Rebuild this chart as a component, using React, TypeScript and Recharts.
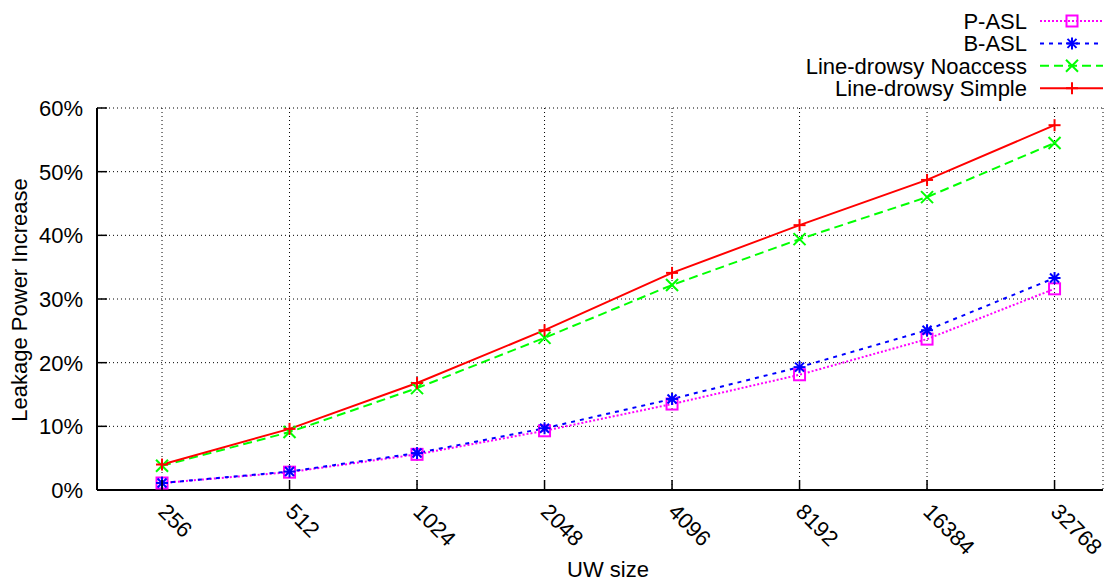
import React from 'react';
import { LineChart, Line, XAxis, YAxis, CartesianGrid } from 'recharts';

// UW sizes along the x axis (plotted by index, labelled with the size)
const uwSizes = ['256', '512', '1024', '2048', '4096', '8192', '16384', '32768'];
const sizeIndex = [0, 1, 2, 3, 4, 5, 6, 7];

// leakage power increase, in percent
const pAsl = [1.1, 2.8, 5.6, 9.3, 13.5, 18.1, 23.7, 31.6];
const bAsl = [1.1, 2.9, 5.8, 9.7, 14.3, 19.3, 25.1, 33.3];
const drowsyNoaccess = [3.8, 9.1, 16.0, 23.9, 32.2, 39.4, 46.0, 54.5];
const drowsySimple = [4.0, 9.6, 16.8, 25.1, 34.1, 41.6, 48.7, 57.3];

const yTicks = [0, 10, 20, 30, 40, 50, 60];

const W = 1107;
const H = 581;
const FONT = '"Liberation Sans", Arial, Helvetica, sans-serif';
const FS = 22;

type MarkerKind = 'square' | 'star' | 'cross' | 'plus';

const series: { key: string; name: string; color: string; dash?: string; marker: MarkerKind }[] = [
  { key: 'pAsl', name: 'P-ASL', color: '#ff00ff', dash: '2 2', marker: 'square' },
  { key: 'bAsl', name: 'B-ASL', color: '#0000ff', dash: '4 5', marker: 'star' },
  { key: 'noaccess', name: 'Line-drowsy Noaccess', color: '#00ff00', dash: '9 5', marker: 'cross' },
  { key: 'simple', name: 'Line-drowsy Simple', color: '#ff0000', marker: 'plus' },
];

const rows = sizeIndex.map((i) => ({
  idx: i,
  pAsl: pAsl[i],
  bAsl: bAsl[i],
  noaccess: drowsyNoaccess[i],
  simple: drowsySimple[i],
}));

const Marker = ({ kind, cx, cy, color }: { kind: MarkerKind; cx: number; cy: number; color: string }) => {
  const s = 6;
  if (kind === 'square') {
    return <rect x={cx - 5.5} y={cy - 5.5} width={11} height={11} fill="none" stroke={color} strokeWidth={2} />;
  }
  if (kind === 'plus') {
    return (
      <g stroke={color} strokeWidth={2}>
        <line x1={cx - s} y1={cy} x2={cx + s} y2={cy} />
        <line x1={cx} y1={cy - s} x2={cx} y2={cy + s} />
      </g>
    );
  }
  if (kind === 'cross') {
    return (
      <g stroke={color} strokeWidth={2}>
        <line x1={cx - s} y1={cy - s} x2={cx + s} y2={cy + s} />
        <line x1={cx - s} y1={cy + s} x2={cx + s} y2={cy - s} />
      </g>
    );
  }
  return (
    <g stroke={color} strokeWidth={2}>
      <line x1={cx - s} y1={cy} x2={cx + s} y2={cy} />
      <line x1={cx} y1={cy - s} x2={cx} y2={cy + s} />
      <line x1={cx - 4.5} y1={cy - 4.5} x2={cx + 4.5} y2={cy + 4.5} />
      <line x1={cx - 4.5} y1={cy + 4.5} x2={cx + 4.5} y2={cy - 4.5} />
    </g>
  );
};

const BottomTick = (props: any) => {
  const { x, y, payload } = props;
  const tx = x - 5;
  const ty = y + 23;
  return (
    <g>
      <line x1={x} y1={y} x2={x} y2={y - 10} stroke="#000" strokeWidth={1.5} />
      <text x={tx} y={ty} transform={`rotate(45, ${tx}, ${ty})`} fontSize={FS} fontFamily={FONT} fill="#000">
        {uwSizes[payload.value]}
      </text>
    </g>
  );
};

const TopTick = (props: any) => {
  const { x, y } = props;
  return <line x1={x} y1={y} x2={x} y2={y + 10} stroke="#000" strokeWidth={1.5} />;
};

const LeftTick = (props: any) => {
  const { x, y, payload } = props;
  return (
    <g>
      <line x1={x} y1={y} x2={x + 10} y2={y} stroke="#000" strokeWidth={1.5} />
      <text x={x - 14} y={y} dy="0.36em" textAnchor="end" fontSize={FS} fontFamily={FONT} fill="#000">
        {`${payload.value}%`}
      </text>
    </g>
  );
};

const RightTick = (props: any) => {
  const { x, y } = props;
  return <line x1={x} y1={y} x2={x - 10} y2={y} stroke="#000" strokeWidth={1.5} />;
};

const LegendBox = () => (
  <svg width={W} height={110} style={{ position: 'absolute', left: 0, top: 0, pointerEvents: 'none' }}>
    {series.map((s, i) => {
      const cy = 21 + i * 22.4;
      return (
        <g key={s.key}>
          <text x={1027} y={cy} dy="0.36em" textAnchor="end" fontSize={FS} fontFamily={FONT} fill="#000">
            {s.name}
          </text>
          <line x1={1040} y1={cy} x2={1103} y2={cy} stroke={s.color} strokeWidth={2} strokeDasharray={s.dash} />
          <Marker kind={s.marker} cx={1072} cy={cy} color={s.color} />
        </g>
      );
    })}
  </svg>
);

export default function App() {
  return (
    <div style={{ position: 'absolute', left: 0, top: 0, width: W, height: H, background: '#fff' }}>
      <LineChart width={W} height={H} data={rows} margin={{ top: 108, right: 4, left: 0, bottom: 0 }}>
        <CartesianGrid stroke="#000" strokeDasharray="1 3" strokeWidth={1} />
        <XAxis
          dataKey="idx"
          type="number"
          domain={[-0.51, 7.38]}
          ticks={sizeIndex}
          height={91}
          tickSize={0}
          tickMargin={0}
          tickLine={false}
          tick={<BottomTick />}
          axisLine={{ stroke: '#000', strokeWidth: 2 }}
          allowDataOverflow
        />
        <XAxis
          xAxisId="top"
          orientation="top"
          dataKey="idx"
          type="number"
          domain={[-0.51, 7.38]}
          ticks={sizeIndex}
          height={0}
          tickSize={0}
          tickMargin={0}
          tickLine={false}
          tick={<TopTick />}
          axisLine={{ stroke: '#000', strokeWidth: 2 }}
          allowDataOverflow
        />
        <YAxis
          type="number"
          domain={[0, 60]}
          ticks={yTicks}
          width={97}
          tickSize={0}
          tickMargin={0}
          tickLine={false}
          tick={<LeftTick />}
          axisLine={{ stroke: '#000', strokeWidth: 2 }}
          allowDataOverflow
        />
        <YAxis
          yAxisId="right"
          orientation="right"
          type="number"
          domain={[0, 60]}
          ticks={yTicks}
          width={0}
          tickSize={0}
          tickMargin={0}
          tickLine={false}
          tick={<RightTick />}
          axisLine={{ stroke: '#000', strokeWidth: 2 }}
          allowDataOverflow
        />
        {series.map((s) => (
          <Line
            key={s.key}
            dataKey={s.key}
            name={s.name}
            type="linear"
            stroke={s.color}
            strokeWidth={2}
            strokeDasharray={s.dash}
            isAnimationActive={false}
            dot={(p: any) => <Marker key={`${s.key}-${p.index}`} kind={s.marker} cx={p.cx} cy={p.cy} color={s.color} />}
            activeDot={false}
          />
        ))}
      </LineChart>
      <LegendBox />
      <svg width={W} height={H} style={{ position: 'absolute', left: 0, top: 0, pointerEvents: 'none' }}>
        <text x={0} y={0} transform="translate(27, 300) rotate(-90)" textAnchor="middle" fontSize={FS} fontFamily={FONT} fill="#000">
          Leakage Power Increase
        </text>
        <text x={608} y={577} textAnchor="middle" fontSize={FS} fontFamily={FONT} fill="#000">
          UW size
        </text>
      </svg>
    </div>
  );
}
